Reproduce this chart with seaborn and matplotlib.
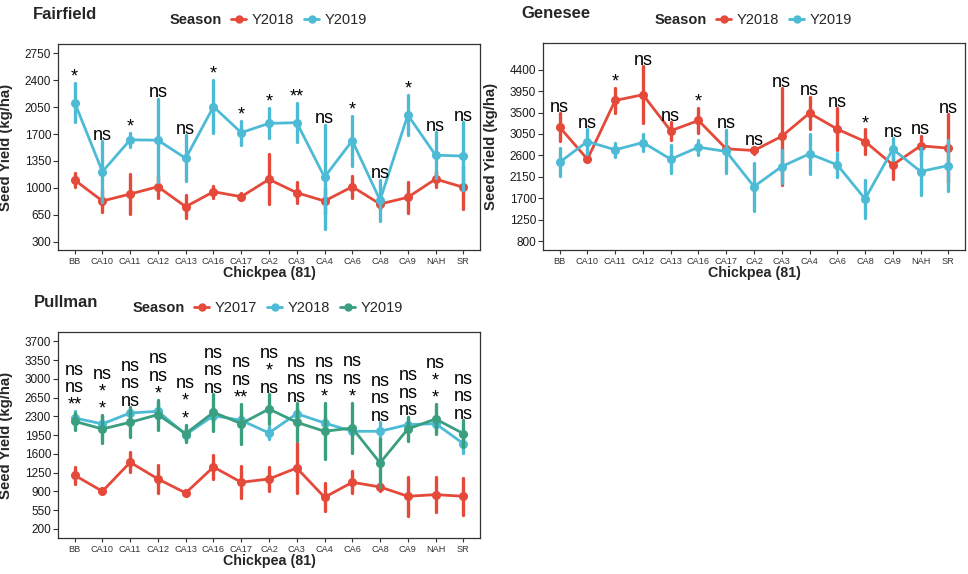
import numpy as np
import pandas as pd
import matplotlib
matplotlib.use("Agg")
import matplotlib.pyplot as plt
from matplotlib.lines import Line2D
import seaborn as sns

# --- data (mean and error half-width, kg/ha) ---
genotypes = ["BB", "CA10", "CA11", "CA12", "CA13", "CA16", "CA17", "CA2",
             "CA3", "CA4", "CA6", "CA8", "CA9", "NAH", "SR"]

ff_2018_mean = [1102, 829, 920, 1015, 755, 950, 885, 1111, 937, 829, 1015, 790, 877, 1115, 1007]
ff_2018_se = [87, 148, 260, 141, 146, 78, 44, 327, 140, 163, 145, 65, 200, 104, 278]
ff_2019_mean = [2110, 1211, 1625, 1620, 1384, 2056, 1718, 1839, 1848, 1140, 1614, 840, 1948, 1425, 1414]
ff_2019_se = [253, 395, 91, 542, 298, 342, 158, 195, 253, 680, 325, 265, 260, 297, 440]
ff_sig = ["*", "ns", "*", "ns", "ns", "*", "*", "*", "**", "ns", "*", "ns", "*", "ns", "ns"]

ge_2018_mean = [3193, 2519, 3754, 3874, 3116, 3333, 2737, 2702, 3000, 3488, 3151, 2891, 2400, 2800, 2751]
ge_2018_se = [292, 50, 263, 597, 183, 270, 50, 77, 1015, 344, 438, 253, 300, 210, 720]
ge_2019_mean = [2456, 2891, 2716, 2870, 2519, 2772, 2681, 1944, 2365, 2632, 2400, 1684, 2730, 2260, 2386]
ge_2019_se = [292, 263, 148, 186, 298, 158, 456, 505, 344, 422, 253, 404, 235, 492, 544]
ge_sig = ["ns", "ns", "*", "ns", "ns", "*", "ns", "ns", "ns", "ns", "ns", "*", "ns", "ns", "ns"]

pu_2017_mean = [1202, 903, 1444, 1133, 872, 1357, 1071, 1133, 1338, 791, 1071, 984, 810, 841, 810]
pu_2017_se = [155, 40, 187, 255, 60, 227, 298, 218, 472, 258, 202, 70, 360, 320, 342]
pu_2018_mean = [2271, 2159, 2364, 2395, 1960, 2314, 2227, 1991, 2351, 2177, 2022, 2022, 2146, 2165, 1792]
pu_2018_se = [130, 140, 93, 155, 115, 124, 109, 109, 99, 103, 93, 171, 109, 109, 171]
pu_2019_mean = [2208, 2065, 2190, 2333, 1979, 2376, 2165, 2438, 2190, 2022, 2084, 1432, 2065, 2252, 1979]
pu_2019_se = [155, 255, 280, 280, 165, 342, 373, 280, 357, 522, 473, 442, 230, 280, 250]
pu_sig_low = ["**", "*", "ns", "*", "*", "ns", "**", "ns", "ns", "*", "*", "ns", "ns", "*", "ns"]
pu_sig_mid = ["ns", "*", "ns", "ns", "*", "ns", "ns", "*", "ns", "ns", "ns", "ns", "ns", "*", "ns"]
pu_sig_top = ["ns"] * 15

RED, BLUE, GREEN = "#E5493A", "#4DBBD5", "#3A9E80"

W, H = 968, 574


def long_frame(series):
    # three rows per point so median = mean and full range = mean +/- se
    rows = []
    for season, (mean, se) in series.items():
        for g, m, s in zip(genotypes, mean, se):
            for v in (m - s, m, m + s):
                rows.append((g, season, v))
    return pd.DataFrame(rows, columns=["geno", "season", "yield"])


def px(x, y):
    return x / W, 1 - y / H


def draw_panel(fig, rect, series, colors, sig_rows, yticks, ylim,
               title, title_x, title_y, season_x, legend_x, legend_y):
    ax = fig.add_axes(rect)
    df = long_frame(series)
    sns.pointplot(data=df, x="geno", y="yield", hue="season",
                  order=genotypes, hue_order=list(series.keys()),
                  palette=colors, estimator="median", errorbar=("pi", 100),
                  markers="o", markersize=5, linewidth=2.0,
                  err_kws={"linewidth": 2.4}, legend=False, ax=ax)

    ax.set_xlim(-0.6, 14.6)
    ax.set_ylim(*ylim)
    ax.set_yticks(yticks)
    ax.set_yticklabels([str(t) for t in yticks])
    for s in ax.spines.values():
        s.set_visible(True)
        s.set_color("#333333")
        s.set_linewidth(0.9)
    ax.tick_params(axis="y", left=True, labelsize=8.5, length=3.5, width=0.8,
                   color="#333333", labelcolor="#1a1a1a", pad=1.5)
    ax.tick_params(axis="x", bottom=True, labelsize=6.6, length=3, width=0.8,
                   color="#333333", labelcolor="#333333", pad=2)

    ax.set_ylabel("Seed Yield (kg/ha)", fontsize=10.7, fontweight="bold")
    ax.yaxis.set_label_coords(-0.107, 0.5)
    ax.set_xlabel("Chickpea (81)", fontsize=10.3, fontweight="bold")
    ax.xaxis.set_label_coords(0.5, -0.112)
    ax.xaxis.label.set_va("center")

    # significance labels stacked above the highest error bar
    tops = np.max([np.array(m) + np.array(s) for m, s in series.values()], axis=0)
    for k, row in enumerate(sig_rows):
        for i, lbl in enumerate(row):
            ax.annotate(lbl, xy=(i, tops[i]), xytext=(0, 1 + k * 12.6),
                        textcoords="offset points", ha="center", va="baseline",
                        fontsize=13, color="black", annotation_clip=False)

    fig.text(*px(title_x, title_y), title, fontsize=12, fontweight="bold",
             ha="left", va="baseline")
    fig.text(*px(season_x, legend_y), "Season", fontsize=10.5,
             fontweight="bold", ha="left", va="center")
    handles = [Line2D([], [], color=c, marker="o", markersize=5, linewidth=2)
               for c in colors]
    fig.legend(handles, list(series.keys()), loc="center left",
               bbox_to_anchor=px(legend_x, legend_y), ncol=len(handles),
               frameon=False, fontsize=10.5, borderpad=0, borderaxespad=0,
               handlelength=1.05, handletextpad=0.35, columnspacing=0.7)
    return ax


def main():
    sns.set_style("white")
    plt.rcParams["font.family"] = ["Liberation Sans", "DejaVu Sans"]

    fig = plt.figure(figsize=(W / 100, H / 100), dpi=100)

    draw_panel(fig, [58 / W, 1 - 250 / H, 422 / W, 206 / H],
               {"Y2018": (ff_2018_mean, ff_2018_se),
                "Y2019": (ff_2019_mean, ff_2019_se)},
               [RED, BLUE], [ff_sig],
               [300, 650, 1000, 1350, 1700, 2050, 2400, 2750], (192, 2871),
               "Fairfield", 33, 19, 170, 231, 20)

    draw_panel(fig, [543 / W, 1 - 250 / H, 422 / W, 207 / H],
               {"Y2018": (ge_2018_mean, ge_2018_se),
                "Y2019": (ge_2019_mean, ge_2019_se)},
               [RED, BLUE], [ge_sig],
               [800, 1250, 1700, 2150, 2600, 3050, 3500, 3950, 4400], (611, 4961),
               "Genesee", 521, 18, 655, 716, 20)

    draw_panel(fig, [58 / W, 1 - 538 / H, 422 / W, 206 / H],
               {"Y2017": (pu_2017_mean, pu_2017_se),
                "Y2018": (pu_2018_mean, pu_2018_se),
                "Y2019": (pu_2019_mean, pu_2019_se)},
               [RED, BLUE, GREEN], [pu_sig_low, pu_sig_mid, pu_sig_top],
               [200, 550, 900, 1250, 1600, 1950, 2300, 2650, 3000, 3350, 3700],
               (32, 3874),
               "Pullman", 34, 307, 133, 194, 308)

    fig.savefig("out.png", dpi=100)


if __name__ == "__main__":
    main()
